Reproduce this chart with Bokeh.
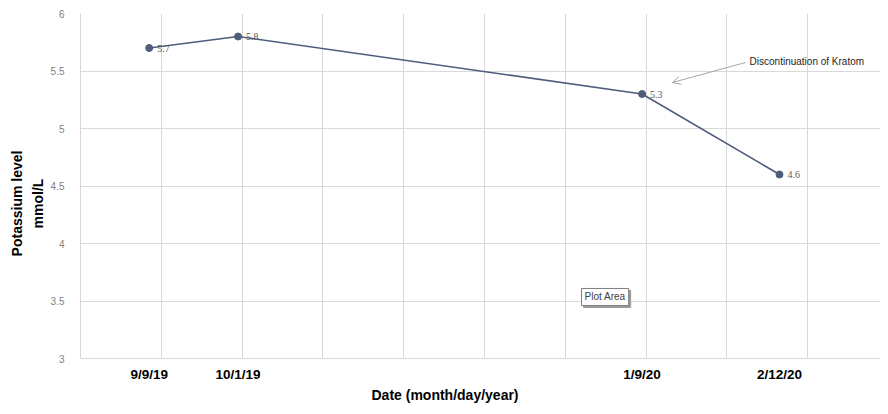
import pandas as pd
from bokeh.plotting import figure
from bokeh.models import Range1d, FixedTicker, Label, Arrow, OpenHead, ColumnDataSource, LabelSet, Title
from bokeh.embed import file_html
from bokeh.resources import INLINE

# ---- data ----
dates = ["2019-09-09", "2019-10-01", "2020-01-09", "2020-02-12"]
date_labels = ["9/9/19", "10/1/19", "1/9/20", "2/12/20"]
potassium = [5.7, 5.8, 5.3, 4.6]
value_labels = ["5.7", "5.8", "5.3", "4.6"]
y_ticks = [3, 3.5, 4, 4.5, 5, 5.5, 6]
y_tick_labels = ["3", "3.5", "4", "4.5", "5", "5.5", "6"]
x_start_date = "2019-08-23"
x_end_date = "2020-03-08"
note_text = "Discontinuation of Kratom"
x_title = "Date (month/day/year)"
y_title_lines = ["Potassium level", "mmol/L"]

# day numbers relative to the first measurement
t0 = pd.Timestamp(dates[0])
days = [(pd.Timestamp(d) - t0).days for d in dates]
x0 = (pd.Timestamp(x_start_date) - t0).days
x1 = (pd.Timestamp(x_end_date) - t0).days

FONT = "Liberation Sans"
GRID = "#d9d9d9"
LINE = "#4E5D7B"

p = figure(width=880, height=406, output_backend="svg", toolbar_location=None,
           x_range=Range1d(x0, x1), y_range=Range1d(3, 6),
           min_border_left=80, min_border_right=0, min_border_top=13, min_border_bottom=48)
p.outline_line_color = None
p.background_fill_color = "white"
p.border_fill_color = "white"

# x axis
p.xaxis.ticker = FixedTicker(ticks=days)
p.xaxis.major_label_overrides = {d: lab for d, lab in zip(days, date_labels)}
p.xaxis.major_label_text_font = FONT
p.xaxis.major_label_text_font_style = "bold"
p.xaxis.major_label_text_font_size = "13.5px"
p.xaxis.major_label_text_color = "black"
p.xaxis.major_label_standoff = 2
p.xaxis.major_tick_line_color = None
p.xaxis.minor_tick_line_color = None
p.xaxis.axis_line_color = GRID

# y axis
p.yaxis.ticker = FixedTicker(ticks=y_ticks)
p.yaxis.major_label_overrides = {t: lab for t, lab in zip(y_ticks, y_tick_labels)}
p.yaxis.major_label_text_font = FONT
p.yaxis.major_label_text_font_size = "10px"
p.yaxis.major_label_text_color = "#808080"
p.yaxis.major_label_standoff = 10
p.yaxis.major_tick_line_color = None
p.yaxis.minor_tick_line_color = None
p.yaxis.axis_line_color = GRID
pad = "\u00a0" * 9
p.yaxis.axis_label = "\n".join(line + pad for line in y_title_lines)
p.yaxis.axis_label_text_font = FONT
p.yaxis.axis_label_text_font_style = "bold"
p.yaxis.axis_label_text_font_size = "14px"
p.yaxis.axis_label_text_line_height = 1.3
p.yaxis.axis_label_text_color = "black"
p.yaxis.axis_label_standoff = 2

# grids
p.xgrid.ticker = FixedTicker(ticks=list(range(x0, x1 + 1, 20)))
p.xgrid.grid_line_color = GRID
p.ygrid.grid_line_color = GRID

# data
src = ColumnDataSource(dict(x=days, y=potassium, lab=value_labels))
p.line("x", "y", source=src, line_color=LINE, line_width=1.6)
p.scatter("x", "y", source=src, size=7, fill_color=LINE, line_color=LINE)
p.add_layout(LabelSet(x="x", y="y", text="lab", source=src, x_offset=8,
                      text_baseline="middle", text_font_size="10px",
                      text_font=FONT, text_color="#595959"))

# annotation
p.add_layout(Arrow(x_start=147.6, y_start=5.574, x_end=129.5, y_end=5.40,
                   line_color="#a6a6a6", line_width=1,
                   end=OpenHead(size=8, line_color="#a6a6a6", line_width=1)))
p.add_layout(Label(x=148.6, y=5.583, text=note_text, text_font=FONT,
                   text_font_size="10px", text_color="#262626",
                   text_baseline="middle", text_align="left"))

# "Plot Area" hover box (with shadow)
p.add_layout(Label(x=107.0, y=3.535, x_offset=2, y_offset=-2, text="Plot Area", text_font=FONT,
                   text_font_size="10px", text_color="#9a9a9a",
                   text_baseline="middle", text_align="left",
                   background_fill_color="#9a9a9a", border_line_color="#9a9a9a",
                   padding=3))
p.add_layout(Label(x=107.0, y=3.535, text="Plot Area", text_font=FONT,
                   text_font_size="10px", text_color="#404040",
                   text_baseline="middle", text_align="left",
                   background_fill_color="white", border_line_color="#7f7f7f",
                   padding=3))

# x axis title
p.add_layout(Title(text=x_title, align="left", offset=291, standoff=0,
                   text_font=FONT, text_font_style="bold", text_font_size="14px",
                   text_color="black"), "below")

open("out.html", "w").write(file_html(p, INLINE))
